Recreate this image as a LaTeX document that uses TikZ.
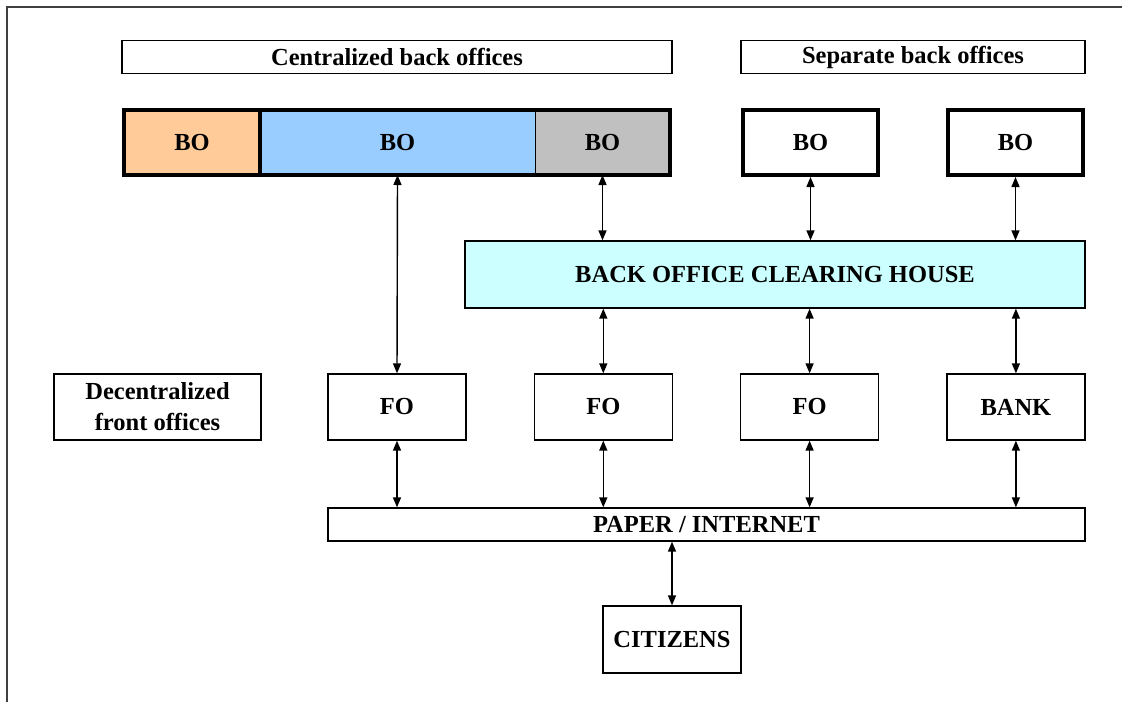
\documentclass[tikz,border=0pt]{standalone}
\usepackage{fontspec}
\setmainfont{Liberation Serif}
\usetikzlibrary{arrows.meta,positioning}
\definecolor{boorange}{HTML}{FFCC99}
\definecolor{boblue}{HTML}{99CCFF}
\definecolor{bogray}{HTML}{C0C0C0}
\definecolor{chcyan}{HTML}{CCFFFF}
\definecolor{framegray}{HTML}{404040}

\begin{document}
\begin{tikzpicture}[
      x=1pt, y=-1pt,
      node distance = 67pt,
      txt/.style    = {font=\fontsize{24.5}{31}\selectfont\bfseries, align=center},
      box/.style    = {txt, draw, line width=1.3pt, inner sep=0pt,
                       minimum width=138pt, minimum height=66pt},
      title/.style  = {box, minimum height=33pt},
      bofill/.style = {txt, inner sep=0pt, outer sep=0pt, minimum height=65pt},
      bobox/.style  = {box, line width=4pt, minimum width=135pt, minimum height=65pt},
      arr/.style    = {{Triangle[length=10pt,width=8pt]}-{Triangle[length=10pt,width=8pt]},
                       line width=1.4pt},
    ]
    \useasboundingbox (0,0) rectangle (1122,702);
    \draw[framegray, line width=1.5pt] (7,702) -- (7,7) -- (1122,7);

    % ---- titles ----
    \node[title, minimum width=550pt] (tcent) at (397,57) {Centralized back offices};
    \node[title, minimum width=344pt] (tsep)  at (913,57) {Separate back offices};

    % ---- back offices ----
    \node[bofill, fill=boorange, minimum width=136pt] (bo1) at (192,142.5) {BO};
    \node[bofill, fill=boblue, minimum width=275pt, right=0pt of bo1] (bo2) {BO};
    \node[bofill, fill=bogray, minimum width=135pt, right=0pt of bo2] (bo3) {BO};
    \draw[line width=1pt] (bo2.north east) -- (bo2.south east);
    \draw[line width=4pt] (bo1.north east) -- (bo1.south east);
    \draw[line width=4pt] (bo1.north west) rectangle (bo3.south east);

    \node[bobox] (bo4) at (810.5,142.5) {BO};
    \node[bobox, right=66pt of bo4] (bo5) {BO};

    % ---- clearing house ----
    \node[box, fill=chcyan, minimum width=620pt, minimum height=67pt] (ch) at (775,274.5)
         {BACK OFFICE CLEARING HOUSE};

    % ---- front offices ----
    \node[box, minimum width=207pt] (dfo) at (157.5,407) {Decentralized\\front offices};
    \node[box] (fo1) at (397,407) {FO};
    \node[box, right=of fo1] (fo2) {FO};
    \node[box, right=of fo2] (fo3) {FO};
    \node[box, right=of fo3] (bank) {BANK};

    % ---- paper / internet and citizens ----
    \node[box, minimum width=757pt, minimum height=33pt] (paper) at (706.5,524.5) {PAPER / INTERNET};
    \node[box, minimum height=67pt] (cit) at (672,639.5) {CITIZENS};

    \draw[arr] (bo2.south) -- (fo1.north);
    \draw[arr] (bo3.south) -- (bo3.south |- ch.north);
    \draw[arr] (bo4.south) -- (bo4.south |- ch.north);
    \draw[arr] (bo5.south) -- (bo5.south |- ch.north);

    \draw[arr] (fo2.north |- ch.south) -- (fo2.north);
    \draw[arr] (fo3.north |- ch.south) -- (fo3.north);
    \draw[arr] (bank.north |- ch.south) -- (bank.north);

    \draw[arr] (fo1.south) -- (fo1.south |- paper.north);
    \draw[arr] (fo2.south) -- (fo2.south |- paper.north);
    \draw[arr] (fo3.south) -- (fo3.south |- paper.north);
    \draw[arr] (bank.south) -- (bank.south |- paper.north);

    \draw[arr] (cit.north |- paper.south) -- (cit.north);
  \end{tikzpicture}
\end{document}
